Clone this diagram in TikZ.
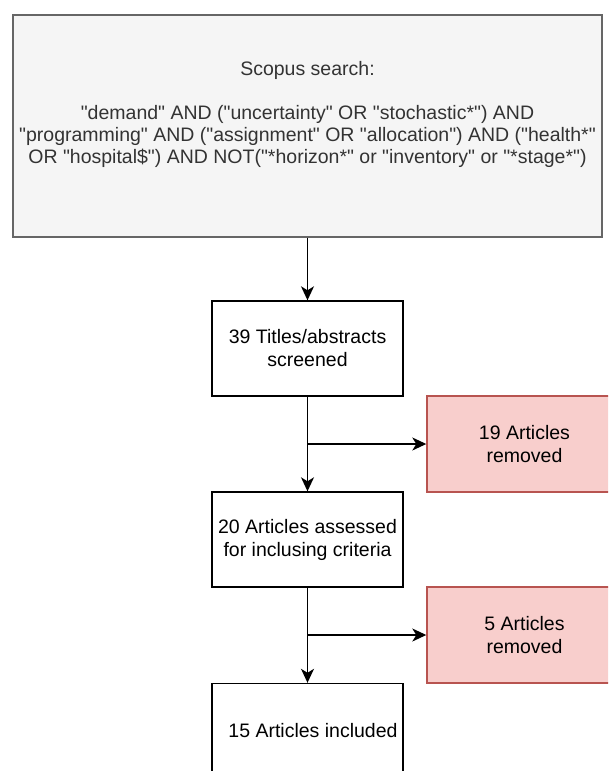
\documentclass[tikz,border=0pt]{standalone}
\usepackage{fontspec}
\setmainfont{Liberation Sans}
% a family without TeX ligatures, so that " stays a straight quote
\newfontfamily\plainsans{Liberation Sans}
\usetikzlibrary{arrows.meta}
\definecolor{searchfill}{HTML}{F5F5F5}
\definecolor{searchline}{HTML}{666666}
\definecolor{searchtext}{HTML}{333333}
\definecolor{dropfill}{HTML}{F8CECC}
\definecolor{dropline}{HTML}{B85450}

\begin{document}
\begin{tikzpicture}[x=1pt,y=-1pt,
  txt/.style={align=center, inner sep=0pt, font=\plainsans\fontsize{19.5}{23}\selectfont},
  box/.style={txt, draw=black, line width=1.4pt, fill=white,
    minimum width=191pt, minimum height=95pt},
  dropbox/.style={box, draw=dropline, fill=dropfill,
    minimum width=195pt, minimum height=96pt},
  searchbox/.style={draw=searchline, fill=searchfill, line width=1.4pt,
    minimum width=589pt, minimum height=222pt, inner sep=0pt},
  arr/.style={line width=1.4pt, -{Stealth[length=14pt,width=13pt,inset=4pt]}},
]
\useasboundingbox (0,0) rectangle (608,771);
\clip (0,0) rectangle (608,771);

% search query box
\node[searchbox] (search) at (307.5,126) {};
\node[txt, text=searchtext, font=\plainsans\fontsize{19.5}{22}\selectfont] (query) at (307.5,114)
  {Scopus search:\\[22pt]
   "demand" AND ("uncertainty" OR "stochastic*") AND\\
   "programming" AND ("assignment" OR "allocation") AND ("health*"\\
   OR "hospital\$") AND NOT("*horizon*" or "inventory" or "*stage*")};

% screening steps
\node[box] (screen) at (307.5,348.5) {39 Titles/abstracts\\screened};
\node[box] (assess) at (307.5,539.5) {20 Articles assessed\\for inclusing criteria};
\node[box] (incl) at (307.5,731) {\hspace*{11pt}15 Articles included};

% exclusions
\node[dropbox] (drop1) at (524.5,444) {19 Articles\\removed};
\node[dropbox] (drop2) at (524.5,635) {5 Articles\\removed};

% flow
\draw[arr] (search.south) -- (screen.north);
\draw[arr] (screen.south) -- (assess.north);
\draw[arr] (screen.south |- drop1.west) -- (drop1.west);
\draw[arr] (assess.south) -- (incl.north);
\draw[arr] (assess.south |- drop2.west) -- (drop2.west);
\end{tikzpicture}
\end{document}
